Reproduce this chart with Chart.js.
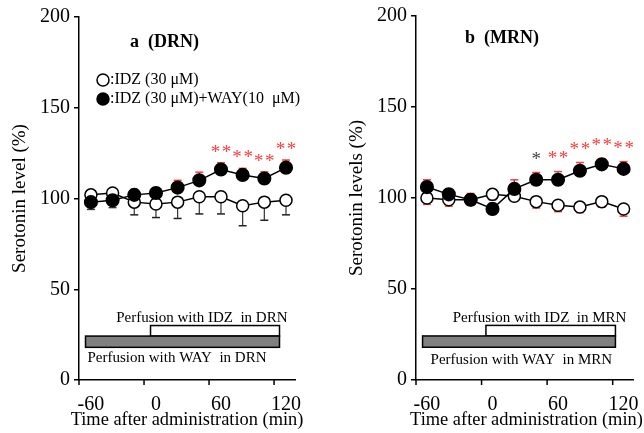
<!DOCTYPE html>
<html>
<head>
<meta charset="utf-8">
<script src="https://cdn.jsdelivr.net/npm/chart.js@4.4.1/dist/chart.umd.min.js"></script>
<style>
  html, body { margin: 0; padding: 0; background: #fff; }
  #wrap { position: relative; width: 644px; height: 433px; }
  #drnChart { position: absolute; left: 0; top: 0; }
  #mrnChart { position: absolute; left: 330px; top: 0; }
</style>
</head>
<body>
<div id="wrap">
  <canvas id="drnChart" width="330" height="433"></canvas>
  <canvas id="mrnChart" width="314" height="433"></canvas>
</div>
<script>
'use strict';

// sampling times (min) and axis ticks
var times = [-60, -40, -20, 0, 20, 40, 60, 80, 100, 120];
var xTickValues = [-60, 0, 60, 120];
var yTickValues = [0, 50, 100, 150, 200];

// a (DRN)
var drnIdz = [102, 103, 98, 97, 98, 101, 101, 96, 98, 99];
var drnIdzSem = [2, 2, 7, 7.5, 9, 9.5, 9.5, 11, 10, 8];
var drnIdzWay = [98, 99, 102, 103, 106, 110, 116, 113, 111, 117];
var drnIdzWaySem = [4, 4, 3, 3, 4, 4.5, 3.7, 3.6, 3.7, 4.2];
var drnStars = ['', '', '', '', '', '', '**', '**', '**', '**'];
var drnIdzPeriod = [-5, 114];
var drnWayPeriod = [-65, 114];

// b (MRN)
var mrnIdz = [100, 99, 99, 102, 101, 98, 96, 95, 98, 94];
var mrnIdzSem = [3.5, 3.5, 3, 3, 2.5, 3.5, 3.5, 3, 3, 4];
var mrnIdzWay = [106, 102, 99, 94, 105, 110, 110, 115, 118.5, 116];
var mrnIdzWaySem = [4, 3, 3.5, 3, 5, 4, 4.5, 4.5, 3, 4];
var mrnStars = ['', '', '', '', '', '*', '**', '**', '**', '**'];
var mrnStarColors = ['', '', '', '', '', '#444', '#ff3b3b', '#ff3b3b', '#ff3b3b', '#ff3b3b'];
var mrnIdzPeriod = [-6, 112.5];
var mrnWayPeriod = [-64, 112.5];

var SERIF = "'Liberation Serif', 'Times New Roman', serif";
var RED = '#ff3b3b';

var panelDecor = {
    id: 'panelDecor',
    // error bars go under the markers
    beforeDatasetsDraw: function (chart, args, o) {
        var ctx = chart.ctx, y = chart.scales.y, x = chart.scales.x;
        var ds = chart.data.datasets;
        ctx.save();
        ds.forEach(function (d, di) {
            var other = ds[1 - di];
            d.values.forEach(function (v, i) {
                var px = x.getPixelForValue(times[i]);
                var sides = [d.errSide];
                if (d.errSide === 'up' && v < other.values[i]) sides.push('down');
                sides.forEach(function (side) {
                    var end = side === 'up' ? v + d.sem[i] : v - d.sem[i];
                    var py0 = y.getPixelForValue(v), py1 = y.getPixelForValue(end);
                    ctx.strokeStyle = d.whiskerColor;
                    ctx.lineWidth = 1.2;
                    ctx.beginPath(); ctx.moveTo(px, py0); ctx.lineTo(px, py1); ctx.stroke();
                    ctx.strokeStyle = side === d.errSide ? d.capColor : d.whiskerColor;
                    ctx.lineWidth = 1.5;
                    ctx.beginPath(); ctx.moveTo(px - 4, py1); ctx.lineTo(px + 4, py1); ctx.stroke();
                });
            });
        });
        ctx.restore();
    },
    afterDraw: function (chart, args, o) {
        var ctx = chart.ctx, y = chart.scales.y, x = chart.scales.x, area = chart.chartArea;
        ctx.save();

        // x tick marks (sit a little left of the labels, as in the original figure)
        ctx.strokeStyle = '#000';
        ctx.lineWidth = 1.5;
        xTickValues.forEach(function (v) {
            var px = x.getPixelForValue(v + o.tickShift);
            ctx.beginPath(); ctx.moveTo(px, area.bottom); ctx.lineTo(px, area.bottom + 5); ctx.stroke();
        });

        // x axis title, drawn here so it is not squeezed to the plot width
        ctx.fillStyle = '#000';
        ctx.font = '18.4px ' + SERIF;
        ctx.textAlign = 'center';
        ctx.textBaseline = 'middle';
        ctx.fillText('Time after administration (min)', (area.left + area.right) / 2 + o.xTitleDx, 420);

        // perfusion bars
        var xIdz0 = x.getPixelForValue(o.idzPeriod[0]), xIdz1 = x.getPixelForValue(o.idzPeriod[1]);
        var xWay0 = x.getPixelForValue(o.wayPeriod[0]), xWay1 = x.getPixelForValue(o.wayPeriod[1]);
        var yTop = y.getPixelForValue(30), yMid = y.getPixelForValue(24.2), yBot = y.getPixelForValue(18);
        ctx.lineWidth = 1.5;
        ctx.fillStyle = '#fff';
        ctx.fillRect(xIdz0, yTop, xIdz1 - xIdz0, yMid - yTop);
        ctx.strokeRect(xIdz0, yTop, xIdz1 - xIdz0, yMid - yTop);
        ctx.fillStyle = '#808080';
        ctx.fillRect(xWay0, yMid, xWay1 - xWay0, yBot - yMid);
        ctx.strokeRect(xWay0, yMid, xWay1 - xWay0, yBot - yMid);

        ctx.fillStyle = '#000';
        ctx.font = '15px ' + SERIF;
        ctx.textBaseline = 'middle';
        ctx.textAlign = 'right';
        ctx.fillText(o.idzText, xIdz1 + o.idzTextDx, yTop - 7);
        ctx.textAlign = 'left';
        ctx.fillText(o.wayText, xWay0 + o.wayTextDx, yBot + o.wayTextDy);

        // panel title
        ctx.font = 'bold 18px ' + SERIF;
        ctx.textAlign = 'left';
        ctx.fillText(o.title, area.left + o.titleDx, o.titleY);

        // significance marks above the WAY series
        var filled = chart.data.datasets[1];
        ctx.font = '19px ' + SERIF;
        ctx.textAlign = 'center';
        ctx.textBaseline = 'alphabetic';
        o.stars.forEach(function (s, i) {
            if (!s) return;
            var m = ctx.measureText(s);
            var midPx = y.getPixelForValue(filled.values[i] + filled.sem[i]) - o.starGap;
            var base = midPx + (m.actualBoundingBoxAscent - m.actualBoundingBoxDescent) / 2;
            ctx.fillStyle = o.starColors ? o.starColors[i] : RED;
            ctx.fillText(s.split('').join('\u200a'), x.getPixelForValue(times[i]), base);
        });

        // legend
        if (o.legend) {
            var ds = chart.data.datasets;
            ctx.font = '16px ' + SERIF;
            ctx.textAlign = 'left';
            ctx.textBaseline = 'middle';
            ds.forEach(function (d, i) {
                var ly = o.legendY + i * 19;
                var lx = area.left + 24;
                ctx.beginPath();
                ctx.arc(lx, ly, 6, 0, Math.PI * 2);
                ctx.fillStyle = d.pointBackgroundColor;
                ctx.fill();
                ctx.lineWidth = 1.5;
                ctx.strokeStyle = '#000';
                ctx.stroke();
                ctx.fillStyle = '#000';
                ctx.fillText(':' + d.label, lx + 7, ly);
            });
        }
        ctx.restore();
    }
};

function toPoints(values) {
    return values.map(function (v, i) { return { x: times[i], y: v }; });
}

function makePanel(canvasId, p) {
    var canvas = document.getElementById(canvasId);
    return new Chart(canvas.getContext('2d'), {
        type: 'line',
        data: {
            datasets: [{
                label: 'IDZ (30 \u03bcM)',
                data: toPoints(p.idz),
                values: p.idz,
                sem: p.idzSem,
                errSide: 'down',
                whiskerColor: '#333',
                capColor: p.openCap,
                order: 1,
                borderColor: '#000',
                borderWidth: 1.5,
                pointRadius: 6,
                pointBorderWidth: 1.5,
                pointBackgroundColor: '#fff',
                pointBorderColor: '#000'
            }, {
                label: 'IDZ (30 \u03bcM)+WAY(10  \u03bcM)',
                data: toPoints(p.idzWay),
                values: p.idzWay,
                sem: p.idzWaySem,
                errSide: 'up',
                whiskerColor: '#333',
                capColor: RED,
                order: 0,
                borderColor: '#000',
                borderWidth: 1.5,
                pointRadius: 6.3,
                pointBorderWidth: 1.5,
                pointBackgroundColor: '#000',
                pointBorderColor: '#000'
            }]
        },
        options: {
            responsive: false,
            animation: false,
            devicePixelRatio: 1,
            layout: { padding: { left: 0, right: p.width - p.right, top: p.top, bottom: 0 } },
            scales: {
                x: {
                    type: 'linear',
                    min: p.xMin,
                    max: p.xMax,
                    afterBuildTicks: function (s) { s.ticks = xTickValues.map(function (v) { return { value: v }; }); },
                    afterFit: function (s) { s.height = 433 - p.bottom; },
                    grid: { display: false },
                    border: { display: true, color: '#000', width: 1.5 },
                    ticks: { color: '#000', padding: 5, maxRotation: 0, font: { family: SERIF, size: 20 } },
                    title: { display: false }
                },
                y: {
                    min: 0,
                    max: 200,
                    afterBuildTicks: function (s) { s.ticks = yTickValues.map(function (v) { return { value: v }; }); },
                    afterFit: function (s) { s.width = p.left; },
                    grid: { display: true, drawOnChartArea: false, drawTicks: true, tickLength: 5, color: '#000', lineWidth: 1.5 },
                    border: { display: true, color: '#000', width: 1.5 },
                    ticks: { color: '#000', padding: 4, font: { family: SERIF, size: 20 } },
                    title: {
                        display: true, text: p.yTitle, color: '#000',
                        padding: { top: p.yTitlePad, bottom: 0 }, font: { family: SERIF, size: 19 }
                    }
                }
            },
            plugins: {
                legend: { display: false },
                tooltip: { enabled: false },
                panelDecor: p.decor
            }
        },
        plugins: [panelDecor]
    });
}

makePanel('drnChart', {
    idz: drnIdz, idzSem: drnIdzSem, idzWay: drnIdzWay, idzWaySem: drnIdzWaySem,
    openCap: '#222',
    width: 330, left: 79, right: 295, top: 17, bottom: 380,
    xMin: -71, xMax: 128.3,
    yTitle: 'Serotonin level (%)', yTitlePad: 9,
    decor: {
        title: 'a  (DRN)', titleDx: 51, titleY: 42,
        xTitleDx: 0,
        legend: true, legendY: 80,
        stars: drnStars, starGap: 14.5,
        tickShift: -11,
        idzPeriod: drnIdzPeriod, wayPeriod: drnWayPeriod,
        idzText: 'Perfusion with IDZ  in DRN', idzTextDx: 8,
        wayText: 'Perfusion with WAY  in DRN', wayTextDx: 2, wayTextDy: 11
    }
});

makePanel('mrnChart', {
    idz: mrnIdz, idzSem: mrnIdzSem, idzWay: mrnIdzWay, idzWaySem: mrnIdzWaySem,
    openCap: RED,
    width: 314, left: 86, right: 306, top: 16, bottom: 380,
    xMin: -70, xMax: 129.4,
    yTitle: 'Serotonin levels (%)', yTitlePad: 16,
    decor: {
        title: 'b  (MRN)', titleDx: 49, titleY: 38,
        xTitleDx: 1.5,
        legend: false,
        stars: mrnStars, starColors: mrnStarColors, starGap: 17.5,
        tickShift: -10,
        idzPeriod: mrnIdzPeriod, wayPeriod: mrnWayPeriod,
        idzText: 'Perfusion with IDZ  in MRN', idzTextDx: 11,
        wayText: 'Perfusion with WAY  in MRN', wayTextDx: 8, wayTextDy: 13
    }
});
</script>
</body>
</html>
